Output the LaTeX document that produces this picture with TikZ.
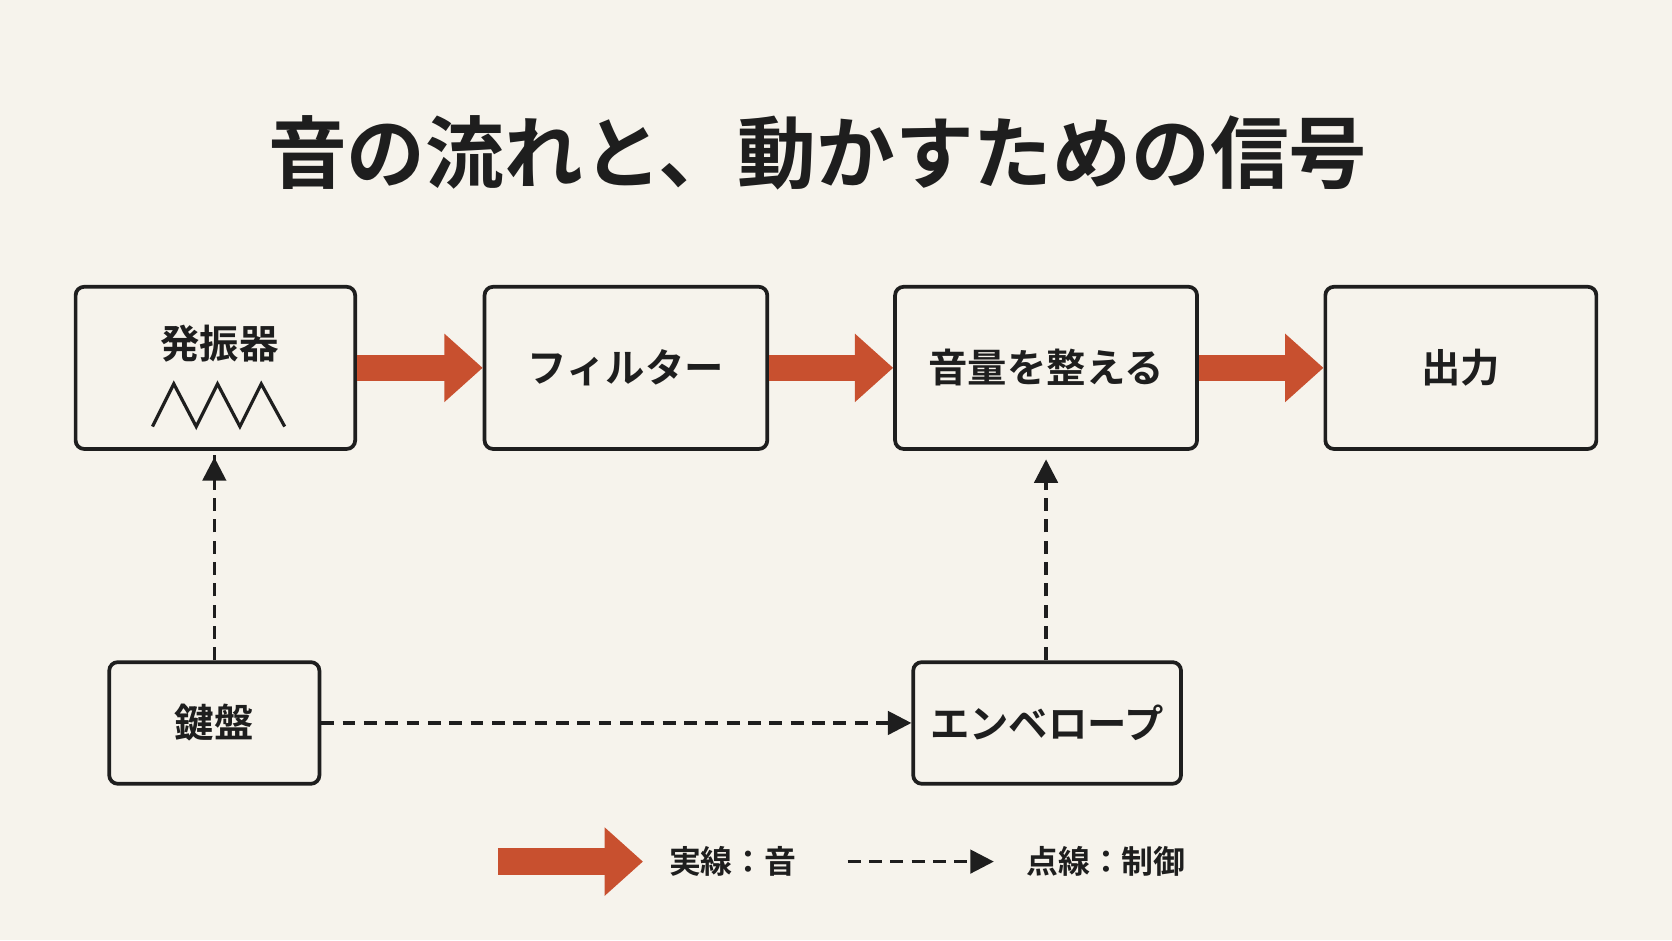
\documentclass[tikz,border=0pt]{standalone}
\usepackage{fontspec}
\setmainfont{Noto Sans CJK JP Bold}
\usetikzlibrary{arrows.meta,positioning,calc}
\definecolor{bg}{HTML}{F6F3EC}
\definecolor{ink}{HTML}{1E1E1E}
\definecolor{sig}{HTML}{C8502F}
\tikzset{
  blk/.style={draw=ink, line width=0.035cm, rounded corners=0.08cm, fill=bg, text=ink, font=\fontsize{10.5pt}{12pt}\selectfont},
  audio/.style={draw=sig, line width=0.25cm, -{Triangle[length=0.36cm, width=0.62cm]}},
  ctrl/.style={draw=ink, line width=0.03cm, dash pattern=on 0.12cm off 0.08cm, -{Triangle[length=0.22cm, width=0.22cm]}},
  lbl/.style={text=ink, font=\fontsize{8.5pt}{10pt}\selectfont, anchor=west}
}
\begin{document}
\begin{tikzpicture}[x=0.01cm, y=-0.01cm]
  \fill[bg] (0,0) rectangle (1568,882);
  \useasboundingbox (0,0) rectangle (1568,882);

  \node[text=ink, font=\fontsize{21pt}{24pt}\selectfont] (title) at (767,143) {音の流れと、動かすための信号};

  % signal chain
  \node[blk, minimum width=2.62cm, minimum height=1.52cm] (osc) at (202,345) {};
  \node[text=ink, font=\fontsize{10.5pt}{12pt}\selectfont] (osclbl) at (206,322) {発振器};
  \node[blk, minimum width=2.65cm, minimum height=1.52cm] (flt) at (587,345) {フィルター};
  \node[blk, minimum width=2.83cm, minimum height=1.52cm] (amp) at (981,345) {音量を整える};
  \node[blk, minimum width=2.54cm, minimum height=1.52cm] (out) at (1370,345) {出力};

  % control sources
  \node[blk, minimum width=1.97cm, minimum height=1.14cm] (key) at (201,678) {鍵盤};
  \node[blk, minimum width=2.51cm, minimum height=1.14cm] (env) at (982,678) {エンベロープ};

  % waveform
  \draw[ink, line width=0.03cm, line join=miter]
    ($(osc.center)+(-59,55)$) -- ++(20,-40) -- ++(21,40) -- ++(20,-40)
    -- ++(21,40) -- ++(20,-40) -- ++(22,40);

  \draw[audio] (osc.east) -- (flt.west);
  \draw[audio] (flt.east) -- (amp.west);
  \draw[audio] (amp.east) -- (out.west);

  \draw[ctrl] (key.north) -- (key.north |- osc.south) ++(0,6);
  \draw[ctrl] (key.east) -- (env.west);
  \draw[ctrl] (env.north -| amp.south) -- ($(amp.south)+(0,8)$);

  % legend
  \coordinate (la) at (467,808);
  \coordinate (lb) at (603,808);
  \draw[audio] (la) -- (lb);
  \node[lbl] (ltxt) at (615,808) {実線：音};
  \coordinate (lc) at (795,808);
  \coordinate (ld) at (932,808);
  \draw[ctrl] (lc) -- (ld);
  \node[lbl] (ctxt) at (950,808) {点線：制御};
\end{tikzpicture}
\end{document}
